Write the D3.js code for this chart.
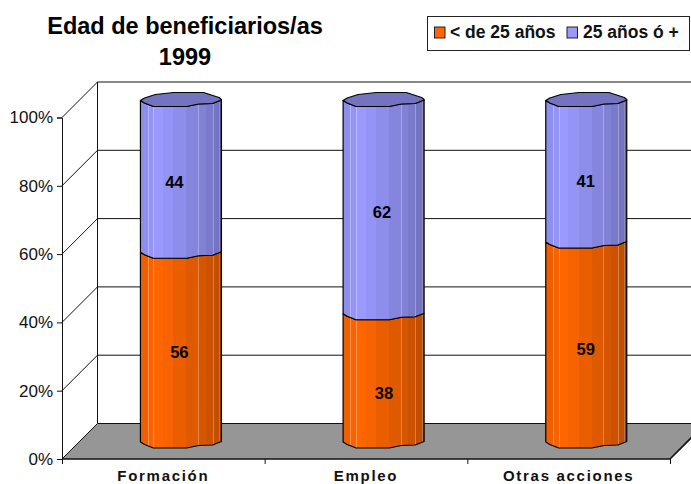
<!DOCTYPE html>
<html><head><meta charset="utf-8">
<script src="https://cdn.jsdelivr.net/npm/d3@7/dist/d3.min.js"></script>
<style>html,body{margin:0;background:#fff}svg{display:block}text{font-family:"Liberation Sans",Arial,sans-serif}</style>
</head><body><svg id="c" width="691" height="484"></svg>
<script>
const categories=["Formación","Empleo","Otras acciones"];
const seriesNames=["< de 25 años","25 años ó +"];
const under25=[56,38,59];
const over25=[44,62,41];
const yTicks=[0,20,40,60,80,100];
const titleLines=["Edad de beneficiarios/as","1999"];

const svg=d3.select("#c");
const depth=35.5, barLift=17;
const y=d3.scaleLinear().domain([0,100]).range([459,117.5]);
const x=d3.scaleBand().domain(categories).range([62,670]);
const barW=81;
const cx=c=>x(c)+x.bandwidth()/2+17.6;
const ink="#000";

// walls and floor
const x0=x.range()[0],x1=x.range()[1];
svg.append("polygon").attr("points",`${x0},${y(0)} ${x0+depth},${y(0)-depth} ${x1+depth},${y(0)-depth} ${x1},${y(0)}`).attr("fill","#969696");
yTicks.forEach(t=>{
  svg.append("path").attr("d",`M${x0},${y(t)}L${x0+depth},${y(t)-depth}L${x1+depth},${y(t)-depth}`).attr("fill","none").attr("stroke","#111").attr("stroke-width",1);
});
svg.append("path").attr("d",`M${x0+depth},${y(0)-depth}V${y(100)-depth}`).attr("stroke","#111").attr("fill","none");
svg.append("path").attr("d",`M${x0},${y(0)}H${x1}L${x1+depth},${y(0)-depth}`).attr("stroke","#111").attr("stroke-width",1.6).attr("fill","none");

// axes
const yAxis=d3.axisLeft(y).tickValues(yTicks).tickFormat(d=>d+"%").tickSize(5).tickPadding(4);
const gy=svg.append("g").attr("transform",`translate(${x0},0)`).call(yAxis);
gy.selectAll("text").attr("font-size",17).attr("fill","#111");
gy.selectAll("path,line").attr("stroke","#111");
const xAxis=d3.axisBottom(d3.scalePoint().domain([0,1,2,3]).range([x0,x1])).tickFormat("").tickSize(5);
const gx=svg.append("g").attr("transform",`translate(0,${y(0)})`).call(xAxis);
gx.select("path").remove(); gx.selectAll("line").attr("stroke","#111");
categories.forEach(c=>svg.append("text").attr("x",x(c)+x.bandwidth()/2).attr("y",480.6).attr("text-anchor","middle").attr("font-size",15).attr("font-weight","bold").attr("letter-spacing",1.7).attr("fill","#111").text(c));

// cylinders: vertical facet shading
const defs=svg.append("defs");
const bandEdges=[0,.09,.16,.28,.405,.565,.71,.805,.89,.97,1];
const bandShade=[.93,.97,1,.97,.92,.87,.84,.8,.76,.6];
const lightLines=[.09,.16,.71,.89,.97];
function grad(id,base){
  const g=defs.append("linearGradient").attr("id",id);
  const c=d3.rgb(base);
  const stop=(o,col)=>g.append("stop").attr("offset",o).attr("stop-color",col);
  bandShade.forEach((k,i)=>{
    const col=d3.rgb(c.r*k,c.g*k,c.b*k);
    const a=bandEdges[i],b=bandEdges[i+1];
    if(lightLines.includes(a)){
      const lite=d3.interpolateRgb(col,"#fff")(.3);
      stop(a,lite);stop(a+.013,lite);stop(a+.013,col);
    } else stop(a,col);
    stop(b,col);
  });
}
grad("gO","#ff6600"); grad("gB","#9999ff");
const lowX=[0,.05,.16,.57,.72,.89,1], lowD=[0,2.5,6,6,3.5,3,-.5];
const upX=[1,.97,.78,.41,.185,.05], upD=[-1,-3,-8,-8,-6,-2.5];
function lowerEdge(l,yy,rev){const p=lowX.map((f,i)=>[l+f*barW,yy+lowD[i]]);return rev?p.reverse():p;}
const line=d3.line();
const labelNudgeUnder=[[-1.6,5],[0.4,15],[-0.6,7]];
const labelNudgeOver=[[-6.6,6],[-1.6,5],[-0.6,10]];
categories.forEach((c,i)=>{
  const l=cx(c)-barW/2;
  const y0=y(0)-barLift, ya=y(under25[i])-barLift+1.5, yb=y(100)-barLift;
  const side=(ta,bo,id)=>{
    const pts=[...lowerEdge(l,bo,false),...lowerEdge(l,ta,true)];
    svg.append("path").attr("d",line(pts)+"Z").attr("fill",`url(#${id})`).attr("stroke",ink).attr("stroke-width",1.2).attr("stroke-linejoin","round");
  };
  side(ya,y0,"gO");
  side(yb,ya,"gB");
  const top=[...lowerEdge(l,yb,false),...upX.map((f,j)=>[l+f*barW,yb+upD[j]])];
  svg.append("path").attr("d",line(top)+"Z").attr("fill","#7373bf").attr("stroke",ink).attr("stroke-width",1.2).attr("stroke-linejoin","round");
  const lab=(v,a,b,n)=>svg.append("text").attr("x",cx(c)+n[0]).attr("y",(a+b)/2+n[1]+6).attr("text-anchor","middle").attr("font-size",16.5).attr("font-weight","bold").attr("fill","#000").text(v);
  lab(under25[i],y0,ya,labelNudgeUnder[i]);
  lab(over25[i],ya,yb,labelNudgeOver[i]);
});

// title
titleLines.forEach((t,i)=>svg.append("text").attr("x",185).attr("y",34+i*31).attr("text-anchor","middle").attr("font-size",23.5).attr("font-weight","bold").attr("fill","#000").text(t));

// legend
svg.append("rect").attr("x",427.5).attr("y",16.5).attr("width",262).attr("height",34).attr("fill","#fff").attr("stroke","#222");
const swatchX=[434,566.5],textX=[450,583],cols=["#ff6600","#9999ff"];
seriesNames.forEach((s,i)=>{
  svg.append("rect").attr("x",swatchX[i]+.5).attr("y",27).attr("width",10.5).attr("height",11).attr("fill",cols[i]).attr("stroke","#222");
  svg.append("text").attr("x",textX[i]).attr("y",37.5).attr("font-size",17.5).attr("font-weight","bold").attr("fill","#111").text(s);
});
</script></body></html>
